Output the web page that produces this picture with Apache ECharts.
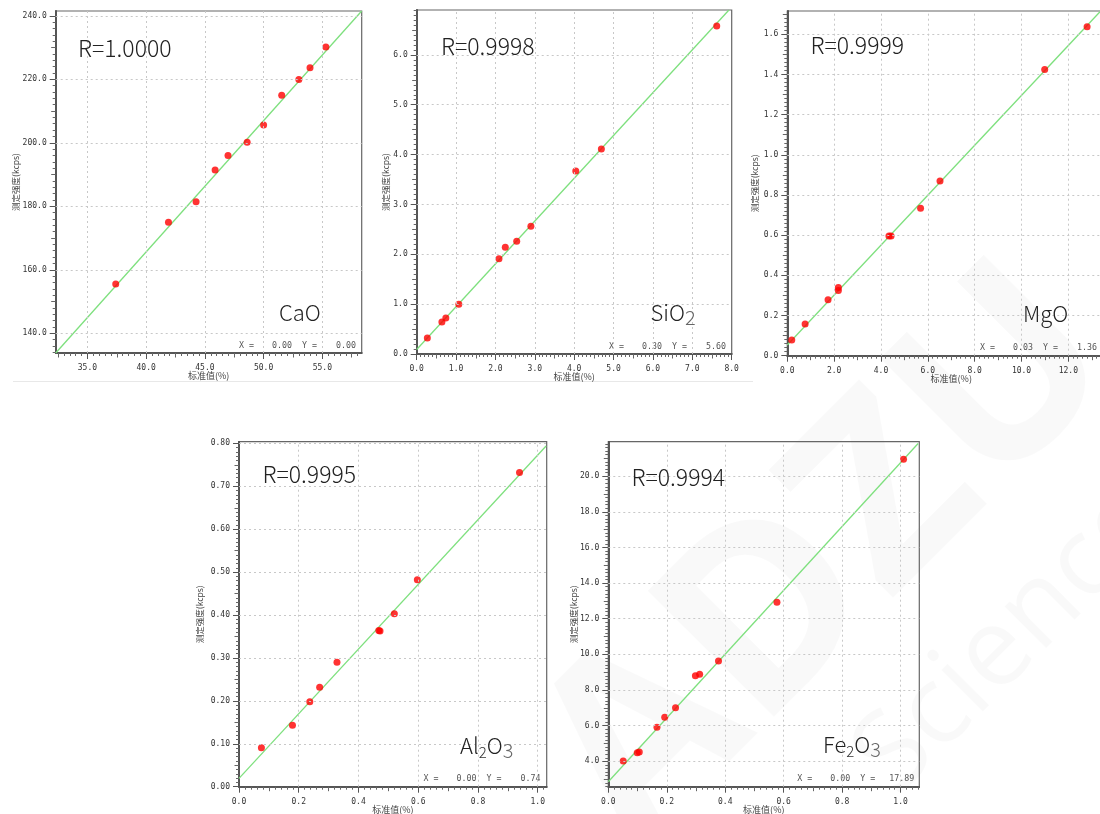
<!DOCTYPE html>
<html><head><meta charset="utf-8">
<script src="https://cdn.jsdelivr.net/npm/echarts@6/dist/echarts.min.js"></script>
<style>html,body{margin:0;padding:0;background:#fff}#c{width:1100px;height:814px}</style>
</head><body><div id="c"></div>
<script>
// ---------- data ----------
const caoX = [37.41, 41.9, 44.25, 45.87, 46.97, 48.6, 50.0, 51.54, 53.0, 53.95, 55.3];
const caoY = [155.5, 175.0, 181.4, 191.4, 196.0, 200.2, 205.6, 215.0, 219.9, 223.6, 230.2];
const caoFitX = [32.3, 58.35];
const caoFitY = [133.8, 241.5];

const sio2X = [0.27, 0.64, 0.74, 1.07, 2.09, 2.25, 2.54, 2.90, 4.04, 4.69, 7.62];
const sio2Y = [0.32, 0.64, 0.72, 1.00, 1.91, 2.14, 2.26, 2.56, 3.67, 4.11, 6.58];
const sio2FitX = [0, 7.93];
const sio2FitY = [0.09, 6.9];

const mgoX = [0.19, 0.76, 1.74, 2.18, 2.18, 4.34, 4.43, 5.69, 6.52, 10.99, 12.80];
const mgoY = [0.078, 0.158, 0.279, 0.340, 0.324, 0.596, 0.596, 0.734, 0.870, 1.425, 1.638];
const mgoFitX = [0, 13.35];
const mgoFitY = [0.053, 1.712];

const al2o3X = [0.075, 0.179, 0.237, 0.270, 0.328, 0.468, 0.472, 0.520, 0.597, 0.939];
const al2o3Y = [0.091, 0.143, 0.198, 0.232, 0.290, 0.364, 0.363, 0.403, 0.482, 0.732];
const al2o3FitX = [0, 1.028];
const al2o3FitY = [0.0195, 0.794];

const fe2o3X = [0.051, 0.099, 0.106, 0.1665, 0.193, 0.230, 0.298, 0.3125, 0.377, 0.577, 1.010];
const fe2o3Y = [4.02, 4.49, 4.52, 5.91, 6.47, 7.01, 8.80, 8.88, 9.63, 12.92, 20.94];
const fe2o3FitX = [0, 1.06];
const fe2o3FitY = [2.86, 21.83];

// tick labels
const caoXTicks = [35, 40, 45, 50, 55];
const caoYTicks = [140, 160, 180, 200, 220, 240];
const sio2XTicks = [0, 1, 2, 3, 4, 5, 6, 7, 8];
const sio2YTicks = [0, 1, 2, 3, 4, 5, 6];
const mgoXTicks = [0, 2, 4, 6, 8, 10, 12];
const mgoYTicks = [0, 0.2, 0.4, 0.6, 0.8, 1.0, 1.2, 1.4, 1.6];
const al2o3XTicks = [0, 0.2, 0.4, 0.6, 0.8, 1.0];
const al2o3YTicks = [0, 0.1, 0.2, 0.3, 0.4, 0.5, 0.6, 0.7, 0.8];
const fe2o3XTicks = [0, 0.2, 0.4, 0.6, 0.8, 1.0];
const fe2o3YTicks = [4, 6, 8, 10, 12, 14, 16, 18, 20];

const rTexts = ['R=1.0000', 'R=0.9998', 'R=0.9999', 'R=0.9995', 'R=0.9994'];
const readX = ['0.00', '0.30', '0.03', '0.00', '0.00'];
const readY = ['0.00', '5.60', '1.36', '0.74', '17.89'];
const xName = '标准值(%)';
const yName = '测定强度(kcps)';

// ---------- panels ----------
const panels = [
  { x: caoX, y: caoY, fx: caoFitX, fy: caoFitY, xt: caoXTicks, yt: caoYTicks, xr: [32.3, 58.35], yr: [133.8, 241.5], xd: 1, yd: 1, xs: 5, ys: 20,
    label: '{m|CaO}' },
  { x: sio2X, y: sio2Y, fx: sio2FitX, fy: sio2FitY, xt: sio2XTicks, yt: sio2YTicks, xr: [0, 8.0], yr: [0, 6.9], xd: 1, yd: 1, xs: 1, ys: 1,
    label: '{m|SiO}{s|2}' },
  { x: mgoX, y: mgoY, fx: mgoFitX, fy: mgoFitY, xt: mgoXTicks, yt: mgoYTicks, xr: [0, 14.0], yr: [0, 1.716], xd: 1, yd: 1, xs: 2, ys: 0.2,
    label: '{m|MgO}' },
  { x: al2o3X, y: al2o3Y, fx: al2o3FitX, fy: al2o3FitY, xt: al2o3XTicks, yt: al2o3YTicks, xr: [0, 1.03], yr: [0, 0.804], xd: 1, yd: 2, xs: 0.2, ys: 0.1,
    label: '{m|Al}{t|2}{m|O}{s|3}' },
  { x: fe2o3X, y: fe2o3Y, fx: fe2o3FitX, fy: fe2o3FitY, xt: fe2o3XTicks, yt: fe2o3YTicks, xr: [0, 1.064], yr: [2.58, 21.93], xd: 1, yd: 1, xs: 0.2, ys: 2,
    label: '{m|Fe}{t|2}{m|O}{s|3}' }
];

// layout (pixels)
const layout = [
  { left: 55.7, top: 11, width: 306, height: 342, yGap: 36, rx: 78, ry: 48, lx: 279, ly: 313, ox: 239 },
  { left: 416.7, top: 10, width: 315, height: 344, yGap: 27, rx: 441, ry: 46, lx: 650.5, ly: 313, ox: 609 },
  { left: 787.3, top: 11, width: 327.9, height: 344.7, yGap: 28, rx: 810.5, ry: 45, lx: 1023, ly: 314, ox: 980 },
  { left: 239, top: 441.7, width: 307.7, height: 345, yGap: 34.5, rx: 262.5, ry: 474, lx: 460, ly: 746, ox: 423.5 },
  { left: 608.3, top: 441.7, width: 311, height: 345, yGap: 30.5, rx: 631.5, ry: 477.5, lx: 823, ly: 745, ox: 797.3 }
];

function subTicks(lo, hi, step, div, skip) {
  const out = [];
  const s = step / div;
  for (let k = Math.ceil(lo / s - 1e-9); k * s <= hi + 1e-9; k++) {
    if (k % skip === 0) continue;
    out.push(+(k * s).toFixed(8));
  }
  return out;
}

const labelFont = 'DejaVu Sans Mono';
const axisColor = '#555';
const grid = [], xAxis = [], yAxis = [], series = [], title = [], graphic = [];

panels.forEach((p, i) => {
  const L = layout[i];
  grid.push({ left: L.left, top: L.top, width: L.width, height: L.height, show: true,
    borderColor: '#666', borderWidth: 1.2, backgroundColor: 'rgba(0,0,0,0)', containLabel: false, outerBoundsMode: 'none' });
  const xi = xAxis.length, yi = yAxis.length;
  const common = { type: 'value', gridIndex: i, splitLine: { show: false }, minorTick: { show: false }, nameMoveOverlap: false };
  // main axes
  xAxis.push(Object.assign({}, common, {
    position: 'bottom', min: p.xr[0], max: p.xr[1],
    axisLine: { show: true, onZero: false, lineStyle: { color: axisColor, width: 1.5 } },
    axisTick: { show: true, customValues: p.xt, length: 6, lineStyle: { color: axisColor } },
    axisLabel: { customValues: p.xt, formatter: v => (+v).toFixed(p.xd), margin: 11, fontSize: 8, color: '#333', fontFamily: labelFont, hideOverlap: false },
    name: xName, nameLocation: 'middle', nameGap: 18,
    nameTextStyle: { fontSize: 9, color: '#444', fontFamily: 'Noto Sans CJK SC' }
  }));
  yAxis.push(Object.assign({}, common, {
    position: 'left', min: p.yr[0], max: p.yr[1],
    axisLine: { show: true, onZero: false, lineStyle: { color: axisColor, width: 1.5 } },
    axisTick: { show: true, customValues: p.yt, length: 6, lineStyle: { color: axisColor } },
    axisLabel: { customValues: p.yt, formatter: v => (+v).toFixed(p.yd), margin: 9, fontSize: 8, color: '#333', fontFamily: labelFont, hideOverlap: false },
    name: yName, nameLocation: 'middle', nameGap: L.yGap, nameRotate: 90,
    nameTextStyle: { fontSize: 8.5, color: '#444', fontFamily: 'Noto Sans CJK SC' }
  }));
  // minor and mid ticks
  const mk = (arr, isX, vals, len) => arr.push(Object.assign({}, common, {
    position: isX ? 'bottom' : 'left',
    min: isX ? p.xr[0] : p.yr[0], max: isX ? p.xr[1] : p.yr[1],
    axisLine: { show: true, onZero: false, lineStyle: { color: axisColor, width: 1.5 } },
    axisTick: { show: true, customValues: vals, length: len, lineStyle: { color: '#666', width: 1 } },
    axisLabel: { show: false }
  }));
  mk(xAxis, true, subTicks(p.xr[0], p.xr[1], p.xs, 10, 5), 3);
  mk(xAxis, true, subTicks(p.xr[0], p.xr[1], p.xs, 2, 2), 4.5);
  mk(yAxis, false, subTicks(p.yr[0], p.yr[1], p.ys, 10, 5), 3);
  mk(yAxis, false, subTicks(p.yr[0], p.yr[1], p.ys, 2, 2), 4.5);

  // dotted grid lines
  series.push({
    type: 'line', xAxisIndex: xi, yAxisIndex: yi, data: [], z: 1, silent: true,
    markLine: {
      silent: true, symbol: ['none', 'none'], animation: false,
      label: { show: false },
      lineStyle: { type: [2, 3], color: '#c8c8c8', width: 1 },
      emphasis: { disabled: true },
      data: p.xt.filter(v => v > p.xr[0] && v < p.xr[1]).map(v => ({ xAxis: v }))
        .concat(p.yt.filter(v => v > p.yr[0] && v < p.yr[1] - 1e-9).map(v => ({ yAxis: v })))
    }
  });
  // fitted line
  series.push({
    type: 'line', xAxisIndex: xi, yAxisIndex: yi, z: 2, silent: true,
    data: p.fx.map((v, k) => [v, p.fy[k]]), symbol: 'none',
    lineStyle: { color: '#7ee07e', width: 1.3 }
  });
  // points
  series.push({
    type: 'scatter', xAxisIndex: xi, yAxisIndex: yi, z: 3,
    data: p.x.map((v, k) => [v, p.y[k]]), symbol: 'circle', symbolSize: 7,
    itemStyle: { color: '#ff0000' }
  });

  // texts
  title.push({ text: rTexts[i], left: L.rx, top: L.ry - 14, padding: 0,
    textStyle: { fontSize: 23, fontWeight: 300, color: '#222', fontFamily: 'Noto Sans CJK SC', lineHeight: 28 } });
  title.push({ text: p.label, left: L.lx, top: L.ly - 14, padding: 0,
    textStyle: { rich: {
      m: { fontSize: 22, fontWeight: 300, color: '#222', fontFamily: 'Noto Sans CJK SC', lineHeight: 28 },
      t: { fontSize: 15, fontWeight: 300, color: '#333', fontFamily: 'Noto Sans CJK SC', lineHeight: 24, verticalAlign: 'bottom' },
      s: { fontSize: 20, fontWeight: 300, color: '#666', fontFamily: 'Noto Sans CJK SC', lineHeight: 25, verticalAlign: 'bottom' }
    } } });
  const oy = L.top + L.height - 7.5;
  const rs = { font: '8.3px "DejaVu Sans Mono"', fill: '#555', textVerticalAlign: 'middle' };
  graphic.push({ type: 'text', silent: true, style: Object.assign({ text: 'X =', x: L.ox, y: oy, textAlign: 'left' }, rs) });
  graphic.push({ type: 'text', silent: true, style: Object.assign({ text: readX[i], x: L.ox + 53, y: oy, textAlign: 'right' }, rs) });
  graphic.push({ type: 'text', silent: true, style: Object.assign({ text: 'Y =', x: L.ox + 63, y: oy, textAlign: 'left' }, rs) });
  graphic.push({ type: 'text', silent: true, style: Object.assign({ text: readY[i], x: L.ox + 117, y: oy, textAlign: 'right' }, rs) });
});

// faint separator under the top row
graphic.push({ type: 'line', silent: true, shape: { x1: 13, y1: 381.5, x2: 753, y2: 381.5 }, style: { stroke: '#e8e8e8', lineWidth: 1 } });
// faint watermark
graphic.push({ type: 'text', silent: true, z: -10, x: 830, y: 560, rotation: Math.PI / 4,
  style: { text: 'ADZU', font: 'bold 250px "Open Sans"', fill: 'rgba(0,0,0,0.022)', textAlign: 'center', textVerticalAlign: 'middle' } });
graphic.push({ type: 'text', silent: true, z: -10, x: 1010, y: 640, rotation: Math.PI / 4,
  style: { text: 'Science', font: '110px "Open Sans"', fill: 'rgba(0,0,0,0.022)', textAlign: 'center', textVerticalAlign: 'middle' } });

const chart = echarts.init(document.getElementById('c'), null, { renderer: 'canvas' });
chart.setOption({ animation: false, backgroundColor: '#fff', title, grid, xAxis, yAxis, series, graphic });
</script></body></html>
